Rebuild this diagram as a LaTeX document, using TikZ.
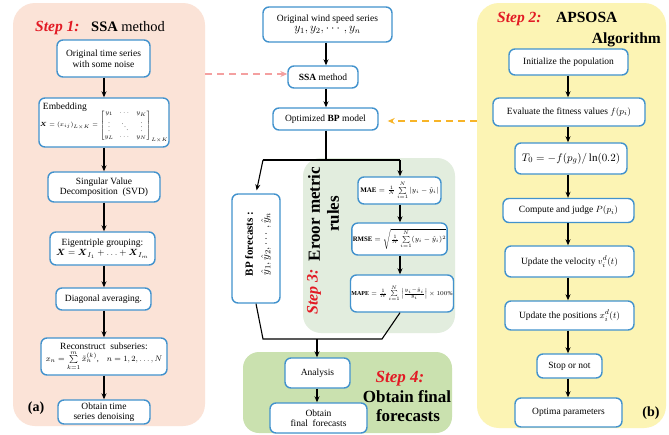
\documentclass[tikz,border=0pt]{standalone}
\usepackage{fontspec}
\setmainfont{Liberation Serif}
\usepackage{amsmath}
\usetikzlibrary{arrows.meta}
\definecolor{boxblue}{RGB}{66,146,205}
\definecolor{pinkpanel}{RGB}{251,227,215}
\definecolor{yellowpanel}{RGB}{252,244,180}
\definecolor{greenA}{RGB}{226,237,222}
\definecolor{greenB}{RGB}{202,225,175}
\definecolor{titlered}{RGB}{226,26,36}
\definecolor{pinkdash}{RGB}{244,160,160}
\definecolor{orangedash}{RGB}{247,180,40}
\begin{document}
\begin{tikzpicture}[x=1pt,y=-1pt,
  bx/.style={draw=boxblue, line width=1.4pt, rounded corners=6pt, fill=white, align=center, inner sep=1pt, font=\fontsize{9.5}{10.5}\selectfont},
  arr/.style={-{Stealth[length=6pt,width=5pt]}, line width=1.1pt, black},
  ln/.style={line width=1.1pt, black},
  panel/.style={draw=none, inner sep=0pt, rounded corners=#1},
  steptitle/.style={font=\fontsize{15.5}{16}\selectfont\bfseries\itshape, text=titlered, inner sep=0pt},
  bigtitle/.style={font=\fontsize{15.5}{16}\selectfont\bfseries, inner sep=0pt},
  dasharr/.style={-{Stealth[length=7pt,width=6pt]}, line width=1.4pt, dash pattern=on 7pt off 5pt}
]
\useasboundingbox (0,0) rectangle (669,434);
\fill[white] (0,0) rectangle (669,434);

% ---------- panels ----------
\node[panel=22pt, fill=pinkpanel, minimum width=192, minimum height=423] (lpanel) at (109,214.5) {};
\node[panel=22pt, fill=yellowpanel, minimum width=189, minimum height=425] (rpanel) at (571.5,215.5) {};
\node[panel=18pt, fill=greenA, minimum width=152, minimum height=175] (p3) at (379,245.5) {};
\node[panel=16pt, fill=greenB, minimum width=209, minimum height=81] (p4) at (347.5,392.5) {};

% ---------- Step 1 ----------
\node[steptitle, anchor=base west] (t1a) at (35,31) {Step 1:};
\node[inner sep=0pt, anchor=base west, font=\fontsize{14.5}{15}\selectfont] (t1b) at (91,31) {\textbf{SSA} method};

\node[bx, minimum width=93, minimum height=37] (L1) at (103.5,58.5) {Original time series\\with some noise};
\node[bx, minimum width=118, minimum height=49, align=left] (L2) at (104,122.5) {\hspace*{3pt}Embedding\\[-3pt]{\fontsize{6}{7}\selectfont\setlength{\arraycolsep}{3pt}$\boldsymbol{X}=(x_{ij})_{L\times K}=\begin{bmatrix}y_1&\cdots&y_K\\ \vdots&\ddots&\vdots\\ y_L&\cdots&y_N\end{bmatrix}_{L\times K}$}};
\node[bx, minimum width=112, minimum height=30] (L3) at (104,187) {Singular Value\\Decomposition~~(SVD)};
\node[bx, minimum width=105, minimum height=33] (L4) at (102.5,248.5) {Eigentriple grouping:\\$\boldsymbol{X}=\boldsymbol{X}_{I_1}+\ldots+\boldsymbol{X}_{I_m}$};
\node[bx, minimum width=95, minimum height=22] (L5) at (103.5,299) {Diagonal averaging.};
\node[bx, minimum width=126, minimum height=37] (L6) at (104,356.5) {Reconstruct~~subseries:\\[0pt]{\footnotesize$x_n=\sum\limits_{k=1}^{m}\tilde{x}_n^{(k)}$,\quad $n=1,2,\ldots,N$}};
\node[bx, minimum width=92, minimum height=24] (L7) at (104,412) {Obtain time\\series denoising};
\node[inner sep=0pt, font=\fontsize{14}{14}\selectfont\bfseries] (la) at (36,408) {(a)};

\foreach \a/\b in {L1/L2,L2/L3,L3/L4,L4/L5,L5/L6,L6/L7}
  \draw[arr] (\a.south -| 104,0) -- (\b.north -| 104,0);

% ---------- Center ----------
\node[bx, minimum width=129, minimum height=35] (C1) at (327.5,24.5) {Original wind speed series\\[-1pt]{\fontsize{12}{12}\selectfont$y_1,y_2,\cdots,y_n$}};
\node[bx, minimum width=70, minimum height=22] (C2) at (323,77) {\textbf{SSA} method};
\node[bx, minimum width=105, minimum height=22] (C3) at (325.5,119) {Optimized \textbf{BP} model};
\draw[arr] (C1.south -| 326,0) -- (C2.north -| 326,0);
\draw[arr] (C2.south -| 326,0) -- (C3.north -| 326,0);

\coordinate (jl) at (263,160);
\coordinate (jr) at (400,160);
\coordinate (jm) at (326,160);

\node[bx, minimum width=48, minimum height=109] (BP) at (256,248.5) {};
\node[rotate=90, align=center, inner sep=0pt, font=\fontsize{11}{16}\selectfont] (BPt) at (258,244) {\textbf{BP forecasts :}\\$\hat{y}_1,\hat{y}_2,\cdots,\hat{y}_n$};

\node[rotate=90, align=center, inner sep=0pt, font=\fontsize{17}{19}\selectfont\bfseries] (t3b) at (323.5,214) {Eroor metric\\rules};
\node[rotate=90, steptitle, font=\fontsize{16}{16}\selectfont\bfseries\itshape] (t3a) at (314,292) {Step 3:};

\node[bx, minimum width=83, minimum height=27] (MAE) at (399.5,190.5) {\fontsize{7}{8}\selectfont$\mathbf{MAE}=\frac{1}{N}\sum\limits_{i=1}^{N}|y_i-\hat{y}_i|$};
\node[bx, minimum width=87, minimum height=32] (RMSE) at (399.5,239) {\fontsize{6.8}{8}\selectfont$\mathbf{RMSE}=\sqrt{\frac{1}{N}\sum\limits_{i=1}^{N}(y_i-\hat{y}_i)^2}$};
\node[bx, minimum width=100, minimum height=37] (MAPE) at (402,293.5) {\fontsize{6}{7}\selectfont$\mathbf{MAPE}=\frac{1}{N}\sum\limits_{i=1}^{N}\left|\frac{y_i-\hat{y}_i}{y_i}\right|\times100\%$};

\draw[ln] (C3.south -| jm) -- (jm);
\draw[ln] (jl) -- (jr);
\draw[arr, shorten >=3pt] (jl) -- (BP.north);
\draw[arr] (jr) -- (MAE.north -| jr);
\draw[arr] (MAE.south -| jr) -- (RMSE.north -| jr);
\draw[arr] (RMSE.south -| jr) -- (MAPE.north -| jr);

\coordinate (kl) at (263,339);
\coordinate (kr) at (382,339);
\coordinate (km) at (317,339);
\draw[ln] (BP.south) -- (kl) -- (kr) -- (MAPE.south -| jr);

\node[bx, minimum width=65, minimum height=30] (AN) at (317.5,373) {Analysis};
\node[bx, minimum width=97, minimum height=30] (OF) at (318.5,418) {Obtain\\final~~forecasts};
\draw[arr] (km) -- (AN.north -| km);
\draw[arr] (AN.south -| km) -- (OF.north -| km);

\node[steptitle, font=\fontsize{17}{17}\selectfont\bfseries\itshape, anchor=base] (t4a) at (400,382) {Step 4:};
\node[bigtitle, font=\fontsize{17}{17}\selectfont\bfseries, anchor=base] (t4b) at (407,402) {Obtain final};
\node[bigtitle, font=\fontsize{17}{17}\selectfont\bfseries, anchor=base] (t4c) at (408,421) {forecasts};

% ---------- Step 2 ----------
\node[steptitle, anchor=base west] (t2a) at (497,22) {Step 2:};
\node[bigtitle, anchor=base west] (t2b) at (556,22) {APSOSA};
\node[bigtitle, anchor=base east] (t2c) at (661,43) {Algorithm};

\node[bx, minimum width=119, minimum height=26] (R1) at (568.5,62) {Initialize the population};
\node[bx, minimum width=152, minimum height=28] (R2) at (569,112) {Evaluate the fitness values $f(p_i)$};
\node[bx, minimum width=112, minimum height=31] (R3) at (571,158.5) {\fontsize{11}{12}\selectfont$T_0=-f(p_g)/\ln(0.2)$};
\node[bx, minimum width=131, minimum height=24] (R4) at (568.5,210.5) {Compute and judge $P(p_i)$};
\node[bx, minimum width=129, minimum height=31] (R5) at (569.5,261.5) {Update the velocity $v_i^d(t)$};
\node[bx, minimum width=129, minimum height=29] (R6) at (569.5,315.5) {Update the positions $x_i^d(t)$};
\node[bx, minimum width=65, minimum height=24] (R7) at (569.5,366) {Stop or not};
\node[bx, minimum width=107, minimum height=29] (R8) at (568.5,412.5) {Optima parameters};
\node[inner sep=0pt, font=\fontsize{14}{14}\selectfont\bfseries] (lb) at (651,413) {(b)};

\foreach \a/\b in {R1/R2,R2/R3,R3/R4,R4/R5,R5/R6,R6/R7,R7/R8}
  \draw[arr] (\a.south -| 568,0) -- (\b.north -| 568,0);

% ---------- dashed links ----------
\draw[dasharr, pinkdash] (lpanel.east |- 0,74) -- (C2.west |- 0,74);
\draw[dasharr, orangedash, shorten >=9pt] (rpanel.west |- 0,121) -- (C3.east |- 0,121);
\end{tikzpicture}
\end{document}
